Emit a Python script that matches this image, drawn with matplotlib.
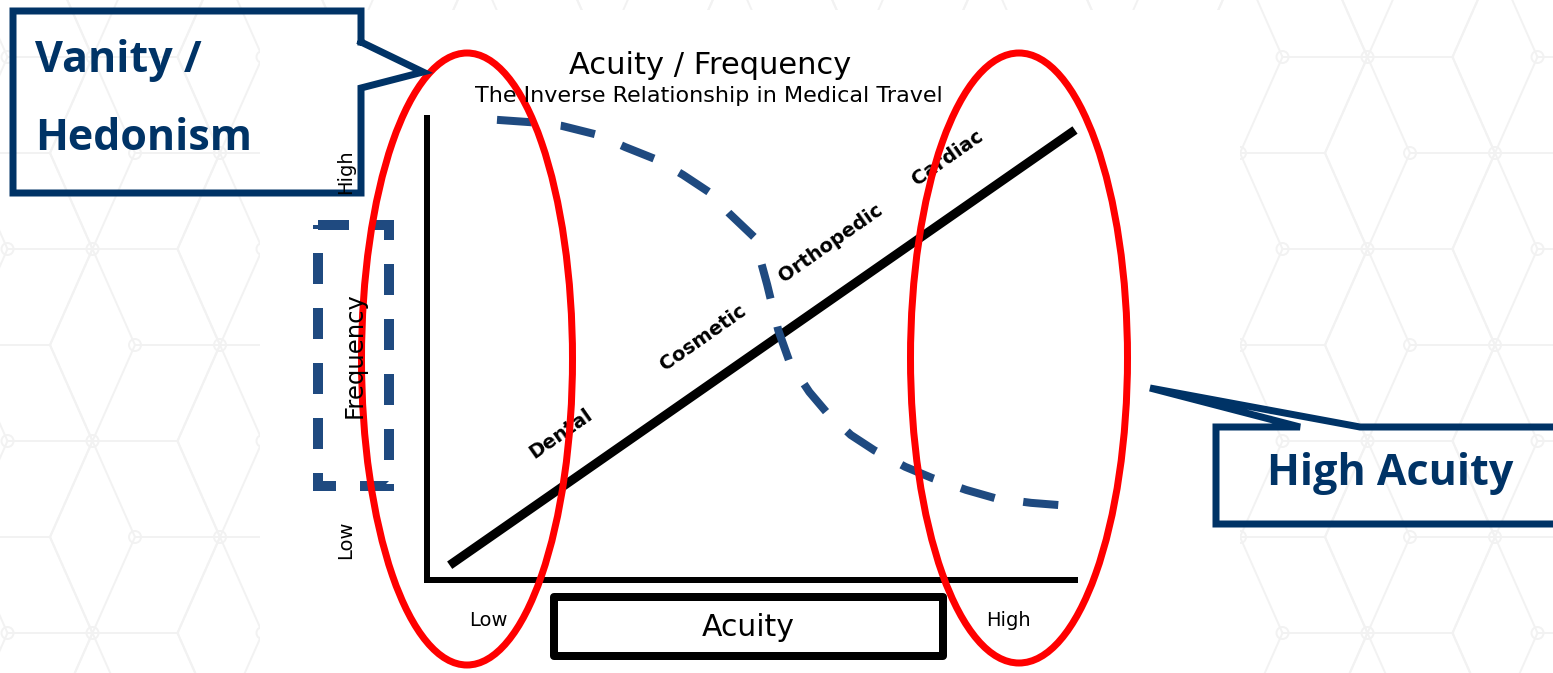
import numpy as np
import matplotlib
matplotlib.use("Agg")
import matplotlib.pyplot as plt
from matplotlib.patches import Ellipse, Rectangle, Circle

# ---- data (acuity 0..10 on x, frequency 0..10 on y) ----
acuity_x = [0.35, 10.0]
acuity_y = [0.32, 9.74]

freq_x = [1.08, 1.59, 2.08, 2.65, 3.06, 3.56, 3.95, 4.37, 4.66, 5.05, 5.25,
          5.42, 5.60, 5.90, 6.16, 6.54, 6.90, 7.38, 7.79, 8.32, 8.77, 9.32, 9.77]
freq_y = [9.96, 9.91, 9.83, 9.63, 9.37, 9.09, 8.77, 8.38, 7.94, 7.42, 6.39,
          5.41, 4.70, 4.07, 3.64, 3.14, 2.81, 2.45, 2.21, 1.95, 1.77, 1.67, 1.62]

procedures = ["Dental", "Cosmetic", "Orthopedic", "Cardiac"]
proc_x = [2.07, 4.26, 6.23, 8.04]
proc_y = [3.16, 5.24, 7.29, 9.13]

W, H = 1553, 673
NAVY = "#003366"
DASH_BLUE = "#1f4a80"
RED = "#ff0000"

def pt(px):
    return px * 72 / 100.0

fig = plt.figure(figsize=(W / 100, H / 100), dpi=100)

# background layer in pixel coordinates
bg = fig.add_axes([0, 0, 1, 1], zorder=0)
bg.set_xlim(0, W); bg.set_ylim(H, 0); bg.axis("off")

# faint "tumbling blocks" hexagon pattern
hc = "#f2f2f2"
for i in range(-1, 14):
    cx = 7.5 + 127.5 * i
    for j in range(-2, 4):
        cy = 249 + 96 * (i % 2) + 192 * j
        vx = cx + np.array([-85, -42.5, 42.5, 85, 42.5, -42.5, -85])
        vy = cy + np.array([0, -96, -96, 0, 96, 96, 0])
        bg.plot(vx, vy, color=hc, lw=1.4, zorder=0)
        for dx, dy in [(-42.5, -96), (-42.5, 96), (85, 0)]:
            bg.plot([cx, cx + dx], [cy, cy + dy], color=hc, lw=1.4, zorder=0)
        for c in [(cx, cy), (cx + 85, cy)]:
            bg.add_patch(Circle(c, 6, fill=False, ec=hc, lw=1.4, zorder=0))
# white pasted chart area
bg.add_patch(Rectangle((260, 10), 980, 680, fc="white", ec="none", zorder=1))

# ---- the chart itself ----
ax = fig.add_axes([427 / W, (H - 580) / H, 648 / W, 462 / H], zorder=1)
ax.set_xlim(0, 10); ax.set_ylim(0, 10)
ax.patch.set_alpha(0)
for s in ["top", "right"]:
    ax.spines[s].set_visible(False)
for s in ["left", "bottom"]:
    ax.spines[s].set_linewidth(pt(6))
ax.set_xticks([]); ax.set_yticks([])

ax.plot(acuity_x, acuity_y, color="black", lw=pt(9), solid_capstyle="butt", clip_on=False)
ax.plot(freq_x, freq_y, color=DASH_BLUE, lw=pt(8), linestyle=(0, (4.4, 3.6)),
        dash_capstyle="butt", clip_on=False)
for name, x, y in zip(procedures, proc_x, proc_y):
    ax.text(x, y, name, rotation=35, rotation_mode="anchor", ha="center", va="center",
            fontsize=14, fontweight="bold", family="DejaVu Sans")

# ---- overlay (pixel coordinates) ----
ov = fig.add_axes([0, 0, 1, 1], zorder=2)
ov.set_xlim(0, W); ov.set_ylim(H, 0); ov.axis("off"); ov.patch.set_alpha(0)

ov.text(710, 66, "Acuity / Frequency", ha="center", va="center", fontsize=22)
ov.text(709, 96, "The Inverse Relationship in Medical Travel", ha="center", va="center",
        fontsize=16)
ov.text(346, 172, "High", rotation=90, ha="center", va="center", fontsize=14)
ov.text(346, 540, "Low", rotation=90, ha="center", va="center", fontsize=14)
ov.text(488, 620, "Low", ha="center", va="center", fontsize=14)
ov.text(1008, 621, "High", ha="center", va="center", fontsize=14)
ov.text(355, 355, "Frequency", rotation=90, ha="center", va="center", fontsize=17.5)

ov.add_patch(Rectangle((318, 225), 71, 261, fill=False, ec=DASH_BLUE, lw=pt(10),
                       linestyle=(0, (3.1, 2.4))))
ov.add_patch(Rectangle((554, 597), 389, 59, fill=False, ec="black", lw=pt(8),
                       joinstyle="round"))
ov.text(748, 628, "Acuity", ha="center", va="center", fontsize=21.5)

ov.add_patch(Ellipse((467, 359), 211, 612, fill=False, ec=RED, lw=pt(7)))
ov.add_patch(Ellipse((1019, 358), 217, 610, fill=False, ec=RED, lw=pt(7)))

# callouts
ov.plot([361, 361, 13, 13, 361, 361, 423, 361],
        [42, 11, 11, 193, 193, 88, 72, 42], color=NAVY, lw=pt(7),
        solid_joinstyle="miter")
ov.text(35, 72, "Vanity /", fontsize=31, fontweight="bold", color=NAVY,
        family="Open Sans", va="baseline")
ov.text(35, 150, "Hedonism", fontsize=31, fontweight="bold", color=NAVY,
        family="Open Sans", va="baseline")

ov.plot([1600, 1360, 1150, 1300, 1216, 1216, 1600],
        [427, 427, 388, 427, 427, 524, 524], color=NAVY, lw=pt(7),
        solid_joinstyle="miter", clip_on=True)
ov.text(1267, 485, "High Acuity", fontsize=31, fontweight="bold", color=NAVY,
        family="Open Sans", va="baseline")

fig.savefig("out.png", dpi=100)
